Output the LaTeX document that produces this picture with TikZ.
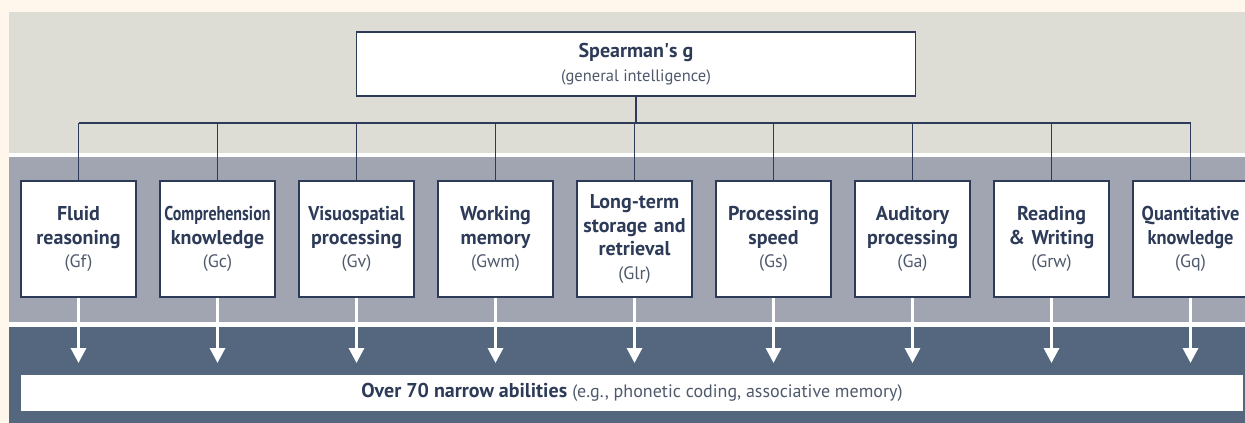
\documentclass[tikz,border=0pt]{standalone}
\usepackage{fontspec}
\setmainfont{PT Sans}
\newfontfamily\condfont[FakeStretch=0.8]{PT Sans}
\newfontfamily\semifont[FakeStretch=0.92]{PT Sans}
\usetikzlibrary{arrows.meta,positioning}
\definecolor{cream}{HTML}{FFF7EC}
\definecolor{lightband}{HTML}{DDDCD5}
\definecolor{midband}{HTML}{A0A5B1}
\definecolor{darkband}{HTML}{55677F}
\definecolor{navy}{HTML}{2D3B58}
\definecolor{codegray}{HTML}{4F596C}
\newcommand{\gcode}[1]{\\{\fontsize{18}{21}\selectfont\mdseries\color{codegray}(#1)}}
\tikzset{
  abil/.style={draw=navy, line width=1.5pt, fill=white, minimum width=115pt,
    minimum height=116pt, inner sep=0pt, text width=113pt, align=center,
    text=navy, font=\fontsize{20}{23.5}\selectfont\bfseries},
  gbox/.style={draw=navy, line width=1.5pt, fill=white, minimum width=559pt,
    minimum height=64pt, align=center, text=navy,
    font=\fontsize{20}{24}\selectfont\bfseries},
  narrowbar/.style={fill=white, minimum width=1222pt, minimum height=36pt,
    inner sep=0pt, text=navy, font=\fontsize{20}{22}\selectfont\bfseries},
  link/.style={draw=navy, line width=1.5pt},
  flow/.style={draw=white, line width=3pt, -{Triangle[width=15pt,length=15pt]}}
}
\begin{document}
\begin{tikzpicture}[x=1pt,y=-1pt]
	% Фон
	\clip (0,0) rectangle (1245,423);
	\fill[cream] (0,0) rectangle (1245,423);
	\fill[white] (9,12) rectangle (1245,423);
	\fill[lightband] (9,12) rectangle (1245,153);
	\fill[midband] (9,157) rectangle (1245,322);
	\fill[darkband] (9,327) rectangle (1245,423);
	% Общий фактор
	\node[gbox] (g) at (636,64) {Spearman\textquotesingle s g\\{\fontsize{16.5}{20}\selectfont\mdseries\color{codegray}(general intelligence)}};
	% Широкие способности
	\node[abil] (b1) at (78.5,239) {Fluid\\reasoning\gcode{Gf}};
	\node[abil, right=22.5pt of b1] (b2) {{\condfont Comprehension}\\knowledge\gcode{Gc}};
	\node[abil, right=22.5pt of b2] (b3) {{\semifont Visuospatial}\\processing\gcode{Gv}};
	\node[abil, right=22.5pt of b3] (b4) {Working\\memory\gcode{Gwm}};
	\node[abil, right=22.5pt of b4] (b5) {Long-term\\storage and\\retrieval\gcode{Glr}};
	\node[abil, right=22.5pt of b5] (b6) {Processing\\speed\gcode{Gs}};
	\node[abil, right=22.5pt of b6] (b7) {Auditory\\processing\gcode{Ga}};
	\node[abil, right=22.5pt of b7] (b8) {Reading\\\& Writing\gcode{Grw}};
	\node[abil, right=22.5pt of b8] (b9) {{\semifont Quantitative}\\{\semifont knowledge}\gcode{Gq}};
	% Узкие способности
	\node[narrowbar] (n) at (632,392.5) {Over 70 narrow abilities {\fontsize{18}{20}\selectfont\mdseries\color{codegray}(e.g., phonetic coding, associative memory)}};
	% Связи
	\coordinate (bus) at (0,123);
	\coordinate (tip) at (0,363);
	\draw[link] (g.south) -- (g.south |- bus);
	\draw[link] (b1.north |- bus) -- (b9.north |- bus);
	\foreach \i in {1,...,9}{
		\coordinate (t\i) at (b\i.south |- tip);
		\draw[link] (b\i.north |- bus) -- (b\i.north);
		\draw[flow] (b\i.south) -- (t\i);
	}
\end{tikzpicture}
\end{document}
